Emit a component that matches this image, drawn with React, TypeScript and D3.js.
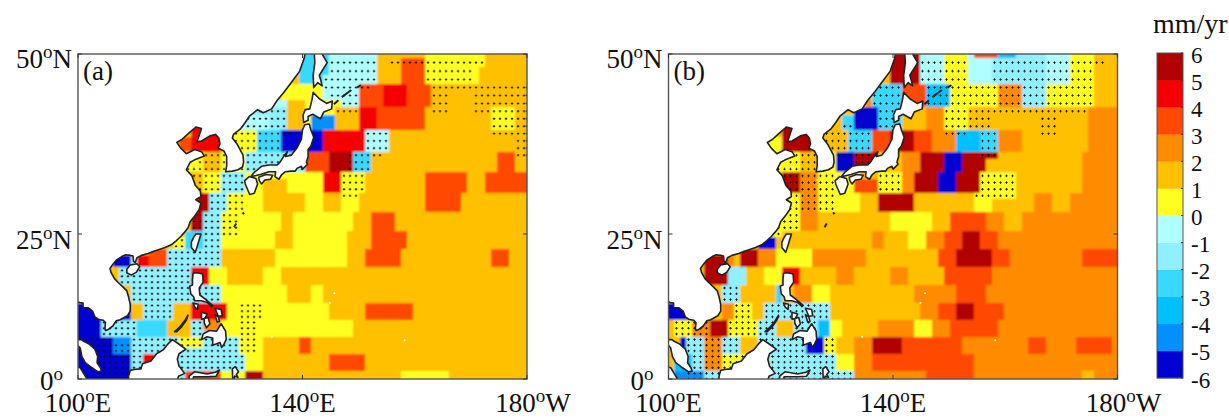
import React from "react";
import * as d3 from "d3";

// Trend classes (mm/yr), lowest to highest; one letter per class. Upper case = significant (dotted).
const classLetters = "abcdefghijkl";
const classColors = ["#0000d0", "#0090ff", "#00c0ff", "#38d8ff", "#90f0ff", "#b0ffff", "#ffff20", "#ffc000", "#ff8c00", "#ff4800", "#f50000", "#b00000"];
const barLabels = ["6", "5", "4", "3", "2", "1", "0", "-1", "-2", "-3", "-4", "-5", "-6"];

// Rows from 50N down to 0 in 1 degree steps: [how many rows, "startColumn+class ..."]
const rowsA: [number, string][] = [
  [1, "37d 42f 50h 58g 68h"],
  [1, "37d 42F 50h 52H 54J 58G 68h"],
  [1, "37d 42F 50h 54j 58G 66g 67h"],
  [1, "37d 41F 50h 54j 58G 66g 67h"],
  [1, "34g 41F 47J 49j 51k 55j 59H"],
  [1, "34g 41f 42F 47j 51k 55j 59H 62h 66H"],
  [1, "33f 35h 38g 44F 47j 51k 55j 59H 62h 66H"],
  [1, "28E 35h 38g 43H 47k 50j 58h 59H 62h 66H 69G 73H"],
  [1, "28F 32E 35h 38g 39b 43h 47k 50j 58h 69G 73H"],
  [1, "19k 21h 27F 32E 35h 38g 39b 43h 47k 50j 58h 69G 73H"],
  [1, "19k 24h 26G 30D 34A 36a 41k 48F 52h 69H"],
  [2, "17j 19k 24h 26G 30D 34a 41k 48F 52h 73H"],
  [1, "18g 20G 21H 24G 25g 28E 38j 42l 45L 46D 49H 51h 70j 73H"],
  [1, "18g 20G 21H 24G 25g 28E 38j 42l 45L 46D 49h 70j 73h"],
  [1, "18G 21H 24G 28E 38j 42l 45L 46D 49h 70j 73h"],
  [1, "19H 21G 24E 28g 41k 44G 48h 58j 65h 68j"],
  [2, "19H 21G 24E 28g 31h 35g 41k 44G 48h 58j 65h 68j"],
  [1, "20l 22E 25G 28g 31h 38g 41h 44G 47h 58j 64h"],
  [2, "20l 22E 25G 28g 31h 38g 41h 44g 47h 58j 64h"],
  [3, "19L 21E 24G 27g 34h 36g 46h 49j 53h"],
  [1, "18d 21E 24G 27g 33h 36g 45h 49j 55h"],
  [2, "16G 18d 21E 24g 33h 36g 45h 49j 55h"],
  [1, "12j 15E 24h 33g 45h 48j 54h 69j 72h"],
  [2, "6a 9f 10k 12j 15E 24h 33g 45h 48j 54h 69j 72h"],
  [3, "7E 19k 22g 25h 31g 34h"],
  [3, "9E 24g 35h 39g 41h"],
  [3, "0a 9h 11E 16h 19k 25g 27G 31g 42h 48j 56h"],
  [2, "0a 4E 10d 15h 19E 21i 24g 27G 30g 46h"],
  [1, "0a 4E 10d 15h 19E 24g 27G 30g 46h"],
  [1, "0A 6b 9E 17G 21E 27G 30g 31h 37j 39h"],
  [1, "0A 6B 9E 17G 21E 27G 30g 31h 37j 39h"],
  [1, "0A 6B 9E 27G 30g 31h 37j 39h"],
  [2, "0a 3A 9E 11k 13E 28g 31h 42j 48h"],
  [1, "0a 3A 9E 17E 28g 31h 42j 48h"],
  [2, "0a 3A 9E 18j 24g 28l 31h 54g 62h"],
];
const rowsB: [number, string][] = [
  [1, "37l 42f 46g 50f 51j 55c 58e 63f 67g 71h"],
  [1, "37l 42F 46G 50f 54E 63F 67G 71H 73h"],
  [2, "37l 42F 46G 50f 54E 63F 67G 71h"],
  [2, "34D 39j 43C 47G 55I 59E 63G 71h"],
  [1, "33i 34D 39j 43C 47G 55I 59E 63G 71h"],
  [1, "31a 35D 39h 43i 46G 50H 70i"],
  [1, "29d 31a 35D 39h 43i 46G 50H 54h 62H 65h 70i"],
  [1, "19l 21h 29D 31a 35D 39h 43i 46G 50H 54h 62H 65h 70i"],
  [1, "19l 24h 26H 30D 34j 37l 41j 44i 46I 48C 50c 52D 55i 59h 62H 65h 70i"],
  [2, "17g 19l 24h 26H 30D 34j 37l 41j 44i 48c 52D 55i 59h 70i"],
  [1, "18g 20G 22H 25g 28A 31L 35h 39i 42l 46a 49l 52L 55h 69i"],
  [1, "18g 20G 22H 25g 28a 31L 35h 39i 42l 46a 49l 53h 69i"],
  [1, "18G 22H 25g 28a 31L 35h 39i 42l 46a 49l 53h 69i"],
  [1, "19L 22I 25G 28g 32h 35G 39i 41l 45a 48l 52G 58h 69i"],
  [2, "19L 22I 25G 28g 31j 35G 39i 41l 45a 48l 52G 58h 69i"],
  [1, "20G 22I 25G 28g 32h 35l 41h 51G 58h 61i 64h 67i"],
  [2, "20G 22I 25G 28g 32h 35l 41h 51g 54h 61i 64h 67i"],
  [3, "18G 22i 25h 37g 44h 47j 53i 56h 59i"],
  [1, "17G 19h 34i 36h 40g 43i 46j 49l 52j 55i"],
  [2, "15a 18h 34i 36h 40g 43i 46j 49l 52j 55i"],
  [1, "12l 15i 18g 24i 33h 45j 48l 54j 57i 69j"],
  [2, "6l 10i 11h 12l 15i 18g 24i 33h 45j 48l 54j 57i 69j"],
  [3, "6l 10e 13h 16g 19k 22h 28i 31h 37i 40h 46j 54i"],
  [3, "9E 12h 18d 19h 21i 24g 27h 41i 48j 53i"],
  [3, "0a 4h 9i 11G 14h 16E 27h 42i 45j 48l 51j 56i"],
  [3, "1G 4I 7l 10G 15E 18h 21E 25c 27g 29h 35i 41g 44i 47j 55i"],
  [3, "2a 3E 6I 9E 12h 15E 23a 26G 28h 31i 34l 39j 49i 60j 63i 68j 74i"],
  [3, "1c 4E 6I 9G 13h 17E 28g 31i 34j 51i"],
  [2, "1b 3B 6E 9h 17E 31i 38i 43j 51i 69h 71i"],
];

type LL = [number, number];
// Land outlines as [lon, lat]
const mainland: LL[] = [[99,14],[100.3,13.5],[100.9,13.4],[100.9,12.6],[101.8,12.6],[102.6,12],[103,11],[103.6,10.6],[104.5,10.4],[104.9,10],[104.8,9],[104.9,8.6],[105.4,8.8],[106.2,9.4],[106.8,10.3],[107.5,10.5],[108.8,11.2],[109.3,12],[109.3,13.2],[109,14.5],[108.7,15.5],[108,16.2],[107.2,16.9],[106.5,17.6],[105.9,18.6],[105.7,19.3],[106.2,20],[106.8,20.7],[107.8,21.3],[108.5,21.6],[109.3,21.5],[109.8,21.4],[109.9,20.5],[110.2,20.3],[110.5,21.1],[111.3,21.5],[112.5,21.8],[113.5,22.2],[114.2,22.4],[115.5,22.8],[116.7,23.3],[117.5,23.9],[118.3,24.6],[119,25.3],[119.6,26],[120,27],[120.9,28],[121.6,28.9],[121.9,29.9],[121,30.4],[121.9,30.9],[121.8,31.7],[120.9,32.6],[120.3,34],[119.3,34.9],[120,36],[120.7,36.3],[122.5,36.9],[122,37.5],[120.8,37.8],[119.3,37.2],[118.3,38],[117.6,38.8],[118.5,39.2],[119.5,39.9],[121,40.9],[122,40.7],[121.6,39.8],[121.2,38.9],[122,39],[123.5,39.7],[124.5,39.9],[125.1,39.4],[125.3,38.6],[125,38],[126,37.6],[126.5,36.8],[126.5,35.5],[126.3,34.6],[127.5,34.7],[128.5,34.9],[129.3,35.3],[129.5,36],[129.4,37],[128.4,38.5],[127.5,39.4],[127.7,39.9],[129,40.7],[129.8,41.5],[130.6,42.4],[132,43.2],[133,42.8],[134.5,43.3],[135.5,44.4],[136.8,45.5],[138.2,46.8],[139.5,48],[140.3,49.5],[140.7,51],[95,51],[95,14]];
const malay: LL[] = [[98,7],[100.6,7],[101,6.7],[102,6.2],[103,5.3],[103.5,4],[103.4,2.9],[104,2],[104.2,1.4],[103.5,1.3],[102.5,2],[101.3,2.9],[100.7,4],[100.4,5.5],[99.5,6.5]];
const sumatra: LL[] = [[98,3],[99,2.3],[100.4,2],[101,1],[101.6,0],[101.6,-1],[98,-1]];
const borneo: LL[] = [[109,-1],[109,0.5],[109.3,1.5],[110,1.7],[111.2,1.8],[111.5,2.7],[113,3.2],[114,4.5],[115.2,5.2],[116,6.2],[116.8,7],[117.7,6.4],[119.2,5.3],[118,4.5],[117.7,3.5],[118,2.3],[119,1],[117.9,0.5],[117.5,-1]];
const hainan: LL[] = [[108.7,19.2],[109.3,19.9],[110.5,20.1],[111,19.6],[110.4,18.7],[109.5,18.2],[108.7,18.6]];
const taiwan: LL[] = [[121,25],[121.9,25],[121.5,23.8],[120.9,22],[120.2,22.8],[120.2,23.7],[120.7,24.6]];
const luzon: LL[] = [[120.5,18.5],[121.2,18.6],[122.2,18.4],[122.3,17],[121.6,16],[121.7,14.8],[122.5,14.2],[124,13],[123.8,12.8],[123,13.5],[122,13.8],[120.8,13.8],[120.6,14.5],[120.1,15],[119.9,16.3],[120.4,16.5],[120.4,17.5]];
const mindoro: LL[] = [[120.5,13.4],[121.4,13.2],[121.3,12.3],[120.8,12.7]];
const palawan: LL[] = [[117.2,8.4],[118,9.1],[119,10.3],[119.6,11.3],[119.3,10.4],[118.5,9.3],[117.6,8.4]];
const panay: LL[] = [[122,11.8],[123,11.5],[122.6,10.7],[122,10.6]];
const negros: LL[] = [[122.5,10.7],[123.2,10.9],[123.5,9.8],[122.9,9.1],[122.5,9.9]];
const samar: LL[] = [[124.4,12.5],[125.5,12.3],[125.7,11.2],[125,11.1]];
const leyte: LL[] = [[124.4,11.4],[125,11],[125.2,10.2],[124.8,10.1]];
const mindanao: LL[] = [[123.4,8.6],[124.7,8.5],[125.5,9.8],[126.3,8.5],[126.4,7],[126,6.2],[125.6,5.6],[125.3,6.5],[124,6],[124,7.3],[123,7.5],[122,7],[122.3,8]];
const sulawesi: LL[] = [[119.8,-1],[119.8,0.5],[120.8,1.3],[123,0.9],[124.5,1.2],[125.2,1.6],[124.6,0.5],[123,0.4],[120.6,0.4],[120.2,-1]];
const halmahera: LL[] = [[127.5,1.8],[128,2.2],[128.6,1.3],[128.2,0.8],[128.5,0.3],[127.9,0.5],[127.6,-1]];
const kyushu: LL[] = [[129.7,33.3],[130.5,33.9],[131.7,33.6],[132,32.8],[131.4,31.4],[130.6,31.2],[130.2,32],[129.8,32.8]];
const shikoku: LL[] = [[132.2,33.8],[133.5,34.2],[134.7,34.1],[134.3,33.5],[133.3,33.4],[132.7,32.8],[132.3,33.3]];
const honshu: LL[] = [[130.9,34],[131.4,34.5],[132.7,35.4],[134,35.6],[135.5,35.6],[136,36],[136.8,37],[137.3,37.5],[137,36.8],[138,37],[139,38],[139.8,39.2],[140,40.5],[140.4,41.2],[141.2,41.3],[141.5,40.5],[142,39.5],[141.5,38.3],[141,37.8],[141,36.8],[140.7,36],[140.9,35.7],[140,35],[139.8,35.4],[139,35.1],[138.7,34.7],[138,34.7],[136.9,34.6],[136.3,34.2],[135.8,33.5],[135.1,33.9],[135.2,34.6],[134,34.6],[132.5,34.2],[131.2,33.95]];
const hokkaido: LL[] = [[140.2,41.5],[140.1,42.5],[140.5,43.2],[141.3,43.3],[141.7,44.5],[141.9,45.4],[143,44.6],[144.3,44],[145.3,44.3],[145.2,43.3],[143.8,42.9],[143.2,42],[141.8,42.6],[141,42.3],[141,41.8]];
const sakhalin: LL[] = [[142,46],[141.9,47.5],[142.2,49],[142.1,50],[142,51],[143.6,51],[143.5,50],[144.4,49],[143,47.5],[143.3,46.8],[143.5,46.2],[142.7,46.6]];
const landMasses = [mainland, malay, sumatra, borneo, hainan, taiwan, luzon, mindoro, palawan, panay, negros, samar, leyte, mindanao, sulawesi, halmahera, kyushu, shikoku, honshu, hokkaido, sakhalin];
const islandChains: LL[][] = [[[147,44.8],[148.7,45.7]], [[149.7,46],[150.4,46.3]], [[145.6,43.9],[146.4,44.4]], [[127.8,26.1],[128.2,26.7]], [[129.3,28.2],[129.6,28.4]]];
const smallIslands: LL[] = [[144.9,13.4],[145.7,15.1],[158.2,6.9],[134.5,7.5],[126.5,33.4],[140.3,39.0]];

const latTicks = [{ lat: 50, t: "50", h: "N", base: 68 }, { lat: 25, t: "25", h: "N", base: 249 }, { lat: 0, t: "0", h: "", base: 390 }];
const lonTicks = [{ lon: 100, t: "100", h: "E", dx: 0 }, { lon: 140, t: "140", h: "E", dx: 0 }, { lon: 179.99, t: "180", h: "W", dx: 6 }];

const FONT = "'Liberation Serif', serif";
const TOP = 54, BOTTOM = 379, WIDTH = 449;
const K = WIDTH / (80 * Math.PI / 180);
const LON_STEP = 80 / 74.83;

function parseRows(rows: [number, string][]) {
  const out: { lat: number; runs: { c0: number; c1: number; k: number }[]; dots: number[] }[] = [];
  let lat = 50;
  for (const [n, spec] of rows) {
    for (let r = 0; r < n; r++) {
      const cells: string[] = new Array(76).fill("h");
      const toks = spec.split(" ").map((s) => ({ c: parseInt(s), l: s.slice(-1) }));
      toks.forEach((t, i) => {
        const end = i + 1 < toks.length ? toks[i + 1].c : 76;
        for (let c = t.c; c < end; c++) cells[c] = t.l;
      });
      const runs: { c0: number; c1: number; k: number }[] = [];
      const dots: number[] = [];
      cells.forEach((l, c) => {
        const k = classLetters.indexOf(l.toLowerCase());
        if (l !== l.toLowerCase()) dots.push(c);
        const last = runs[runs.length - 1];
        if (last && last.k === k) last.c1 = c + 1;
        else runs.push({ c0: c, c1: c + 1, k });
      });
      out.push({ lat, runs, dots });
      lat--;
    }
  }
  return out;
}

function Panel({ left, rows, tag, id }: { left: number; rows: [number, string][]; tag: string; id: string }) {
  const proj = d3.geoMercator().scale(K).translate([left - K * (100 * Math.PI / 180), BOTTOM]);
  const px = (lon: number, lat: number) => proj([lon, lat]) as [number, number];
  const colLon = (c: number) => Math.min(179.99, 100 + (c - 1 / 6) * LON_STEP);
  const line = d3.line<LL>().x((d) => px(d[0], d[1])[0]).y((d) => px(d[0], d[1])[1]);
  const cross = d3.symbol().type(d3.symbolCross).size(3.6)() as string;
  const data = parseRows(rows);
  const offsetX = left - 78;
  return (
    <g>
      <defs>
        <clipPath id={id}><rect x={left} y={TOP} width={WIDTH} height={BOTTOM - TOP} /></clipPath>
      </defs>
      <g clipPath={`url(#${id})`}>
        <g filter="url(#soft)" shapeRendering="crispEdges">
          {data.map((row) => row.runs.map((r) => {
            const x0 = Math.round(px(colLon(r.c0), 0)[0]);
            const x1 = Math.round(px(colLon(r.c1), 0)[0]);
            const y0 = Math.round(px(100, row.lat + 0.5)[1]);
            const y1 = Math.round(px(100, row.lat - 0.5)[1]);
            return <rect key={row.lat + "-" + r.c0} x={x0} y={y0} width={x1 - x0 + 3} height={y1 - y0} fill={classColors[r.k]} />;
          }))}
        </g>
        {data.map((row) => row.dots.map((c) => {
          const [x, y] = px(colLon(c + 0.5), row.lat);
          return <path key={row.lat + "d" + c} d={cross} transform={`translate(${x},${y})`} fill="#111" />;
        }))}
        {smallIslands.map((d, i) => {
          const [x, y] = px(d[0], d[1]);
          return <circle key={i} cx={x} cy={y} r={1} fill="#fff" />;
        })}
        {landMasses.map((poly, i) => (
          <path key={i} d={(line(poly) as string) + "Z"} fill="#fff" stroke="#222" strokeWidth={1.6} strokeLinejoin="round" />
        ))}
        {islandChains.map((poly, i) => (
          <path key={i} d={line(poly) as string} fill="none" stroke="#222" strokeWidth={2} />
        ))}
      </g>
      <rect x={left} y={TOP} width={WIDTH} height={BOTTOM - TOP} fill="none" stroke="#555" strokeWidth={1.4} />
      {latTicks.map((t) => {
        const y = px(100, t.lat)[1];
        return (
          <g key={t.lat}>
            <line x1={left} x2={left + 4} y1={y} y2={y} stroke="#333" />
            <line x1={left + WIDTH} x2={left + WIDTH - 4} y1={y} y2={y} stroke="#333" />
            <text x={(t.lat === 0 ? 63 : 72) + offsetX} y={t.base} textAnchor="end" fontFamily={FONT} fontSize={27} fill="#111">
              {t.t}
              <tspan dy={-10} fontSize={19}>o</tspan>
              <tspan dy={10}>{t.h}</tspan>
            </text>
          </g>
        );
      })}
      {lonTicks.map((t) => {
        const x = px(t.lon, 0)[0];
        return (
          <g key={t.lon}>
            <line x1={x} x2={x} y1={BOTTOM} y2={BOTTOM - 4} stroke="#333" />
            <line x1={x} x2={x} y1={TOP} y2={TOP + 4} stroke="#333" />
            <text x={x + t.dx} y={412} textAnchor="middle" fontFamily={FONT} fontSize={27} fill="#111">
              {t.t}
              <tspan dy={-10} fontSize={19}>o</tspan>
              <tspan dy={10}>{t.h}</tspan>
            </text>
          </g>
        );
      })}
      <text x={left + 5} y={80} fontFamily={FONT} fontSize={27} fill="#111">{tag}</text>
    </g>
  );
}

function ColorBar() {
  const x0 = 1157, w = 26, y0 = 53, y1 = 378;
  const y = d3.scaleLinear().domain([6, -6]).range([y0, y1]);
  const values = d3.range(-6, 6);
  return (
    <g>
      {values.map((v, i) => (
        <rect key={v} x={x0} y={y(v + 1)} width={w} height={y(v) - y(v + 1) + 0.3} fill={classColors[i]} />
      ))}
      <rect x={x0} y={y0} width={w} height={y1 - y0} fill="none" stroke="#555" strokeWidth={1} />
      {barLabels.map((l) => (
        <g key={l}>
          <line x1={x0 + w} x2={x0 + w - 2} y1={y(+l)} y2={y(+l)} stroke="#333" />
          <text x={1191} y={y(+l) + 9.5} fontFamily={FONT} fontSize={23} fill="#111">{l}</text>
        </g>
      ))}
      <text x={1153} y={33} fontFamily={FONT} fontSize={28} fill="#111">mm/yr</text>
    </g>
  );
}

export default function App() {
  return (
    <svg width={1229} height={418} style={{ position: "absolute", left: 0, top: 0, background: "#fff" }}>
      <defs>
        <filter id="soft" x="-2%" y="-2%" width="104%" height="104%">
          <feGaussianBlur stdDeviation="0.8" />
        </filter>
      </defs>
      <Panel left={78} rows={rowsA} tag="(a)" id="clipA" />
      <Panel left={668.5} rows={rowsB} tag="(b)" id="clipB" />
      <ColorBar />
    </svg>
  );
}
